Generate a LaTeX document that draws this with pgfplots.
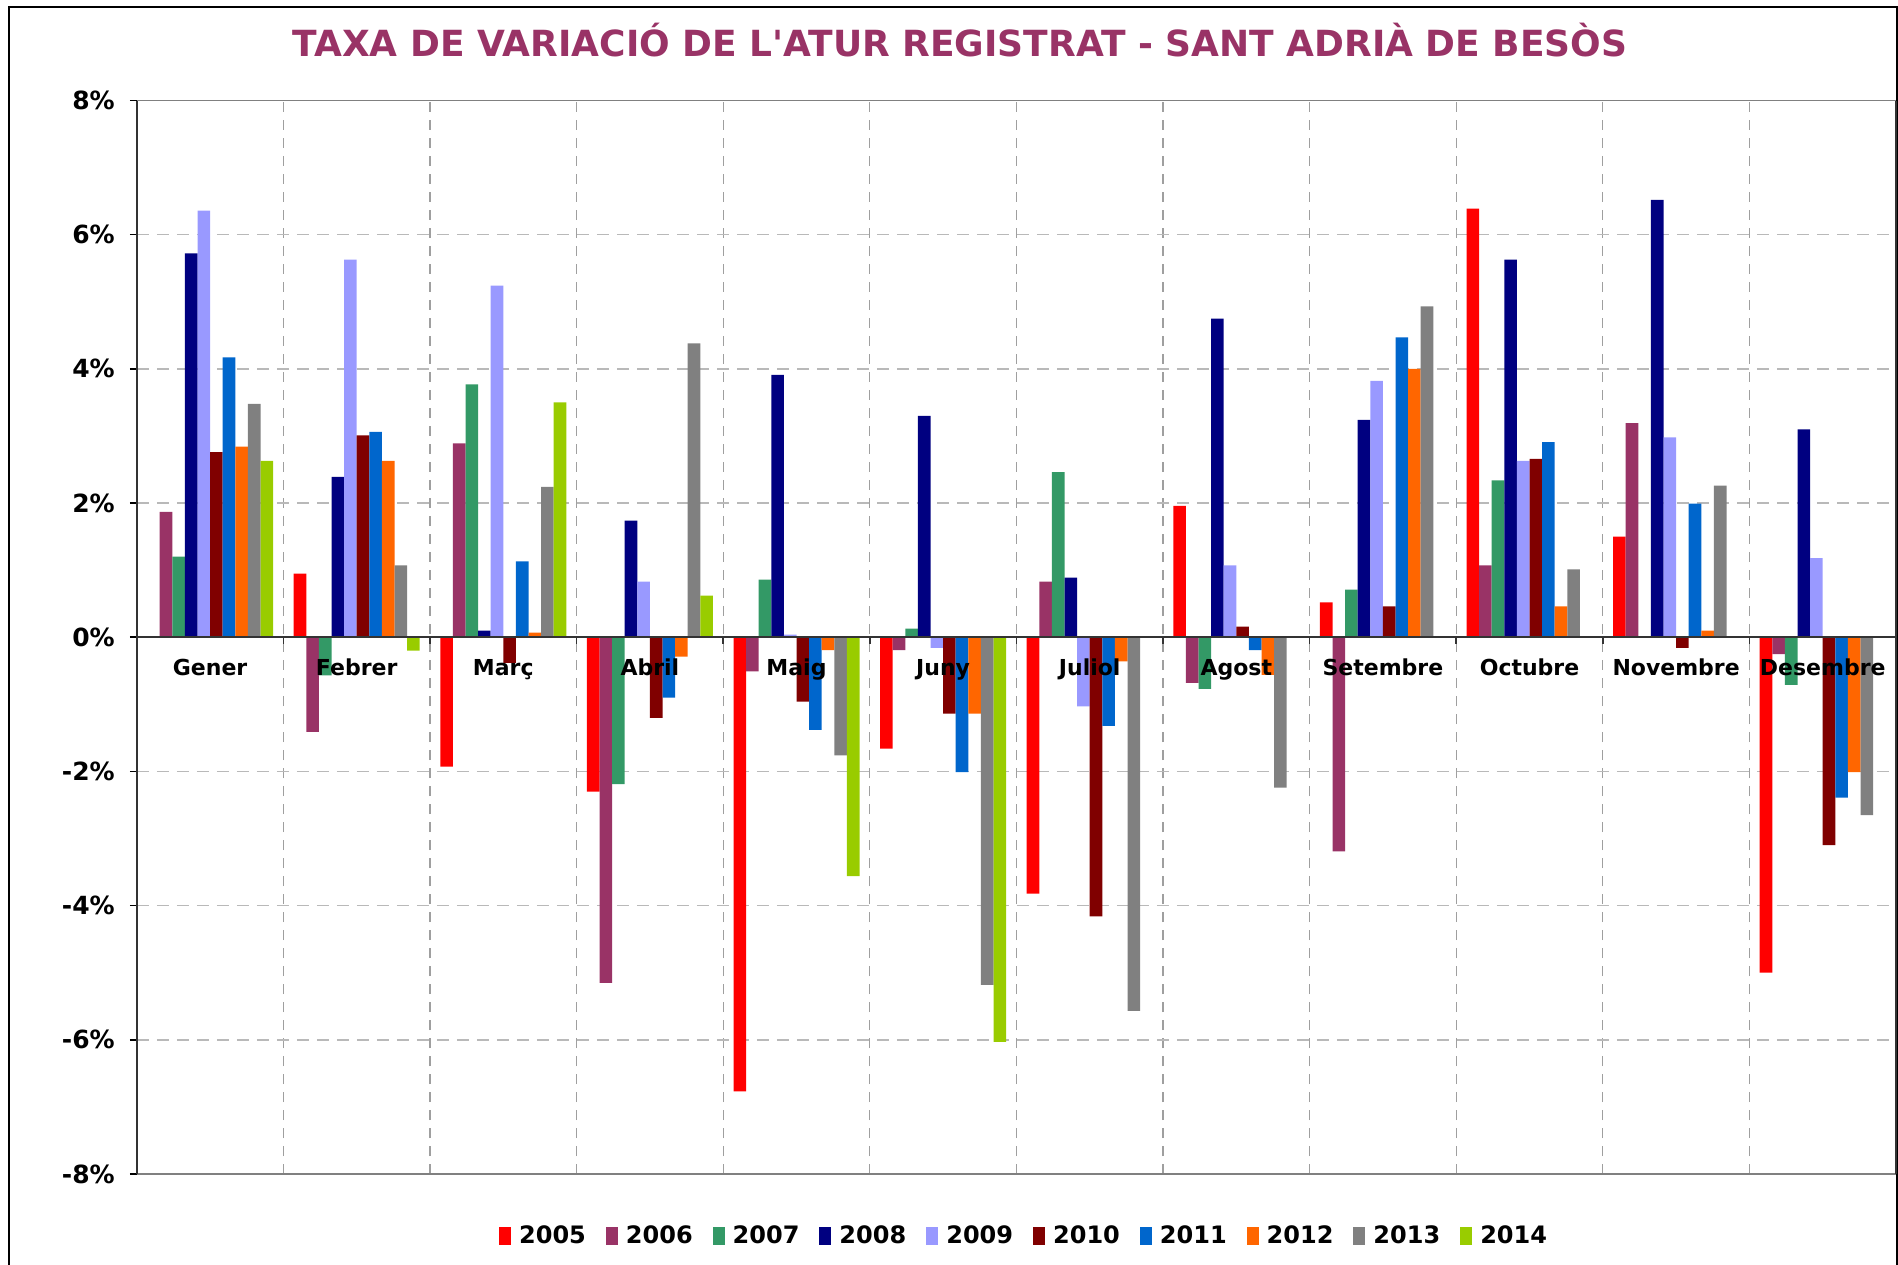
\documentclass[border=0pt]{standalone}
\usepackage{fontspec}
\setmainfont{DejaVu Sans}
\usepackage{pgfplots}
\usepackage{pgfplotstable}
\pgfplotsset{compat=1.18}
\definecolor{c05}{HTML}{FF0000}
\definecolor{c06}{HTML}{993366}
\definecolor{c07}{HTML}{339966}
\definecolor{c08}{HTML}{000080}
\definecolor{c09}{HTML}{9999FF}
\definecolor{c10}{HTML}{800000}
\definecolor{c11}{HTML}{0066CC}
\definecolor{c12}{HTML}{FF6600}
\definecolor{c13}{HTML}{808080}
\definecolor{c14}{HTML}{99CC00}
\definecolor{titlec}{HTML}{993366}

% month index, values per year (percent)
\pgfplotstableread{
m  y2005 y2006 y2007 y2008 y2009 y2010 y2011 y2012 y2013
0  0     1.87  1.20  5.72  6.36  2.76  4.17  2.84  3.48
1  0.95 -1.41 -0.57  2.39  5.63  3.01  3.06  2.63  1.07
2 -1.93  2.89  3.77  0.10  5.24 -0.38  1.13  0.07  2.24
3 -2.30 -5.15 -2.19  1.74  0.83 -1.20 -0.90 -0.29  4.38
4 -6.77 -0.51  0.86  3.91  0.04 -0.96 -1.38 -0.19 -1.76
5 -1.66 -0.19  0.13  3.30 -0.16 -1.14 -2.01 -1.14 -5.18
6 -3.82  0.83  2.46  0.89 -1.03 -4.16 -1.32 -0.36 -5.57
7  1.96 -0.68 -0.77  4.75  1.07  0.16 -0.19 -0.56 -2.24
8  0.52 -3.19  0.71  3.24  3.82  0.46  4.47  4.00  4.93
9  6.39  1.07  2.34  5.63  2.63  2.66  2.91  0.46  1.01
10 1.50  3.19  0     6.52  2.98 -0.16  1.99  0.10  2.26
11 -5.00 -0.25 -0.71 3.10  1.18 -3.10 -2.39 -2.01 -2.65
}\datamain
\pgfplotstableread{
m  y2014
0  2.63
1 -0.20
2  3.50
3  0.62
4 -3.56
5 -6.03
}\datalast

\newcommand{\sq}{{\XeTeXglyph\XeTeXglyphindex "quotesingle"\relax}}

\begin{document}
\begin{tikzpicture}[x=0.5pt,y=0.5pt,
  month/.style={font=\bfseries\fontsize{11}{13}\selectfont, anchor=base, yshift=-19pt}]
\useasboundingbox (0,0) rectangle (1898,1264);
\draw[line width=1pt] (9,-20) -- (9,1257) -- (1896.5,1257) -- (1896.5,-20);
\node[anchor=base, text=titlec, font=\bfseries\fontsize{18}{21}\selectfont] at (960,1207) {TAXA DE VARIACIÓ DE L\sq ATUR REGISTRAT - SANT ADRIÀ DE BESÒS};
\begin{axis}[
  at={(68.4pt,45pt)}, anchor=south west,
  width=879.6pt, height=536.75pt, scale only axis,
  xmin=-0.5, xmax=11.5, ymin=-8, ymax=8,
  ybar=0pt, bar width=6.3pt,
  xtick={0.5,1.5,...,10.5}, xticklabels={},
  x tick style={draw=none},
  ytick={-8,-6,...,8},
  yticklabels={-8\%,-6\%,-4\%,-2\%,0\%,2\%,4\%,6\%,8\%},
  ytick pos=left,
  tick align=outside,
  major tick length=3.5pt,
  y tick style={draw=black, line width=0.8pt},
  yticklabel style={font=\bfseries\fontsize{12.5}{14}\selectfont, xshift=-4pt},
  xmajorgrids, ymajorgrids,
  x grid style={gray!75, line width=0.6pt, dash pattern=on 5pt off 4pt},
  y grid style={gray!55, line width=0.8pt, dash pattern=on 6pt off 4pt},
  separate axis lines,
  x axis line style={draw=gray, line width=0.8pt},
  y axis line style={draw=black!80, line width=1pt},
  legend columns=10,
  legend style={draw=none, fill=none, at={(0.5038,-0.0578)}, anchor=center,
    font=\bfseries\fontsize{12}{14}\selectfont,
    /tikz/every odd column/.append style={column sep=4pt},
    /tikz/every even column/.append style={column sep=10pt},
    nodes={inner sep=0pt}},
  legend image code/.code={\path[#1,draw=none] (0pt,-4.5pt) rectangle (6pt,4.5pt);},
]
\addplot[fill=c05, draw=none] table[x=m, y=y2005] {\datamain};
\addplot[fill=c06, draw=none] table[x=m, y=y2006] {\datamain};
\addplot[fill=c07, draw=none] table[x=m, y=y2007] {\datamain};
\addplot[fill=c08, draw=none] table[x=m, y=y2008] {\datamain};
\addplot[fill=c09, draw=none] table[x=m, y=y2009] {\datamain};
\addplot[fill=c10, draw=none] table[x=m, y=y2010] {\datamain};
\addplot[fill=c11, draw=none] table[x=m, y=y2011] {\datamain};
\addplot[fill=c12, draw=none] table[x=m, y=y2012] {\datamain};
\addplot[fill=c13, draw=none] table[x=m, y=y2013] {\datamain};
\addplot[fill=c14, draw=none] table[x=m, y=y2014] {\datalast};
\legend{2005,2006,2007,2008,2009,2010,2011,2012,2013,2014}
\draw[black!80, line width=1pt] (axis cs:-0.5,0) -- (axis cs:11.5,0);
\pgfplotsinvokeforeach{0.5,1.5,2.5,3.5,4.5,5.5,6.5,7.5,8.5,9.5,10.5}{
  \draw[black!80, line width=0.8pt] (axis cs:#1,0) -- ([yshift=-3.5pt]axis cs:#1,0);
}
\node[month] at (axis cs:0,0) {Gener};
\node[month] at (axis cs:1,0) {Febrer};
\node[month] at (axis cs:2,0) {Març};
\node[month] at (axis cs:3,0) {Abril};
\node[month] at (axis cs:4,0) {Maig};
\node[month] at (axis cs:5,0) {Juny};
\node[month] at (axis cs:6,0) {Juliol};
\node[month] at (axis cs:7,0) {Agost};
\node[month] at (axis cs:8,0) {Setembre};
\node[month] at (axis cs:9,0) {Octubre};
\node[month] at (axis cs:10,0) {Novembre};
\node[month] at (axis cs:11,0) {Desembre};
\end{axis}
\end{tikzpicture}
\end{document}
